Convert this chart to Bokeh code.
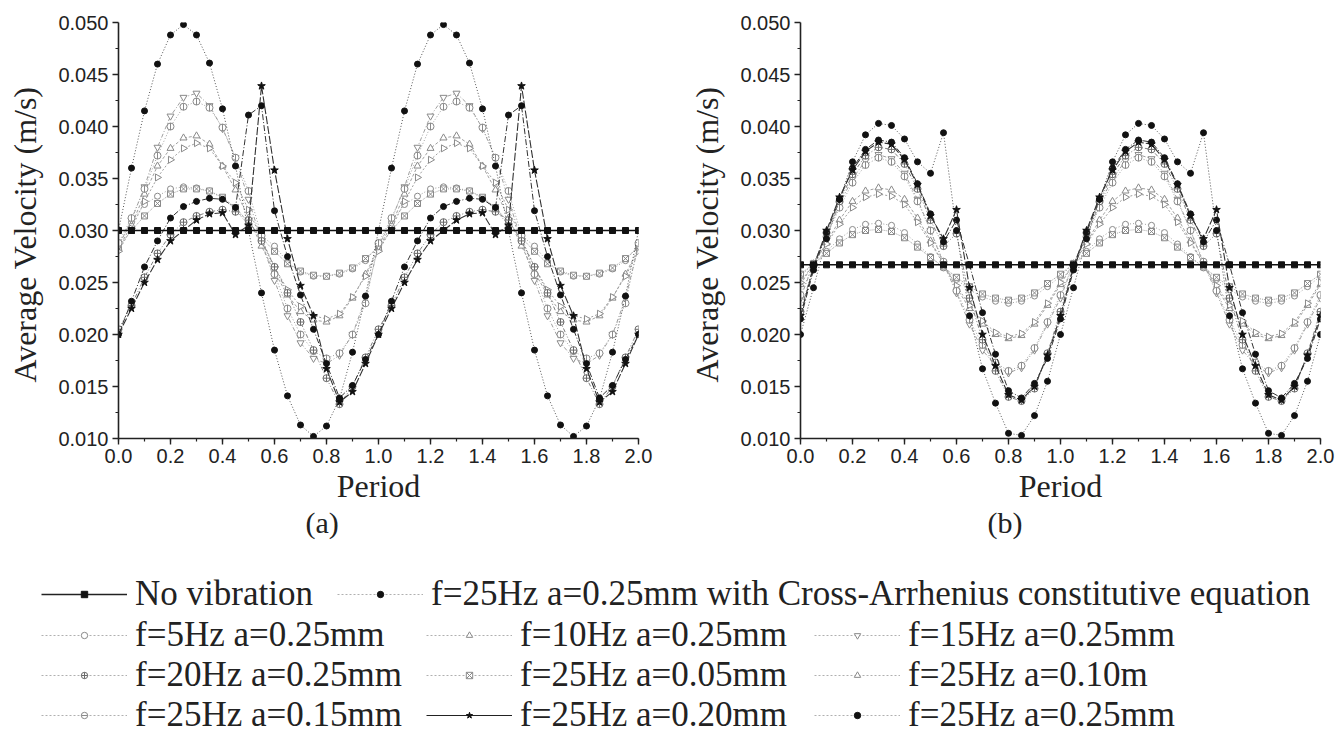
import numpy as np
from bokeh.plotting import figure
from bokeh.layouts import column, row
from bokeh.models import FixedTicker, NumeralTickFormatter, Title, Legend, LegendItem
from bokeh.embed import file_html
from bokeh.resources import INLINE

# ---------------- data ----------------
PERIOD = [round(0.05 * i, 2) for i in range(41)]
X_TICKS = [0.0, 0.2, 0.4, 0.6, 0.8, 1.0, 1.2, 1.4, 1.6, 1.8, 2.0]
Y_TICKS = [0.010, 0.015, 0.020, 0.025, 0.030, 0.035, 0.040, 0.045, 0.050]

LABELS = {
    "no_vib": "No vibration",
    "ca": "f=25Hz a=0.25mm with Cross-Arrhenius constitutive equation",
    "f5": "f=5Hz a=0.25mm",
    "f10": "f=10Hz a=0.25mm",
    "f15": "f=15Hz a=0.25mm",
    "f20": "f=20Hz a=0.25mm",
    "a005": "f=25Hz a=0.05mm",
    "a010": "f=25Hz a=0.10m",
    "a015": "f=25Hz a=0.15mm",
    "a020": "f=25Hz a=0.20mm",
    "a025": "f=25Hz a=0.25mm",
}

# panel (a)
A_NO_VIB = [0.0300, 0.0300, 0.0300, 0.0300, 0.0300, 0.0300, 0.0300, 0.0300, 0.0300, 0.0300, 0.0300,
            0.0300, 0.0300, 0.0300, 0.0300, 0.0300, 0.0300, 0.0300, 0.0300, 0.0300, 0.0300,
            0.0300, 0.0300, 0.0300, 0.0300, 0.0300, 0.0300, 0.0300, 0.0300, 0.0300, 0.0300,
            0.0300, 0.0300, 0.0300, 0.0300, 0.0300, 0.0300, 0.0300, 0.0300, 0.0300, 0.0300]
A_CA = [0.0200, 0.0232, 0.0265, 0.0290, 0.0312, 0.0323, 0.0328, 0.0331, 0.0330, 0.0322, 0.0411,
        0.0420, 0.0319, 0.0275, 0.0238, 0.0205, 0.0172, 0.0139, 0.0151, 0.0176, 0.0200,
        0.0232, 0.0265, 0.0290, 0.0312, 0.0323, 0.0328, 0.0331, 0.0330, 0.0322, 0.0411,
        0.0420, 0.0319, 0.0275, 0.0238, 0.0205, 0.0172, 0.0139, 0.0151, 0.0176, 0.0200]
A_F5 = [0.0286, 0.0308, 0.0325, 0.0333, 0.0340, 0.0342, 0.0341, 0.0338, 0.0331, 0.0320, 0.0305,
        0.0295, 0.0285, 0.0270, 0.0260, 0.0256, 0.0256, 0.0258, 0.0263, 0.0271, 0.0286,
        0.0308, 0.0325, 0.0333, 0.0340, 0.0342, 0.0341, 0.0338, 0.0331, 0.0320, 0.0305,
        0.0295, 0.0285, 0.0270, 0.0260, 0.0256, 0.0256, 0.0258, 0.0263, 0.0271, 0.0286]
A_F10 = [0.0283, 0.0305, 0.0335, 0.0362, 0.0379, 0.0389, 0.0391, 0.0383, 0.0362, 0.0339, 0.0312,
         0.0285, 0.0260, 0.0238, 0.0222, 0.0214, 0.0212, 0.0218, 0.0235, 0.0258, 0.0283,
         0.0305, 0.0335, 0.0362, 0.0379, 0.0389, 0.0391, 0.0383, 0.0362, 0.0339, 0.0312,
         0.0285, 0.0260, 0.0238, 0.0222, 0.0214, 0.0212, 0.0218, 0.0235, 0.0258, 0.0283]
A_F15 = [0.0285, 0.0310, 0.0342, 0.0380, 0.0410, 0.0428, 0.0432, 0.0420, 0.0398, 0.0370, 0.0330,
         0.0290, 0.0252, 0.0218, 0.0192, 0.0177, 0.0172, 0.0180, 0.0200, 0.0235, 0.0285,
         0.0310, 0.0342, 0.0380, 0.0410, 0.0428, 0.0432, 0.0420, 0.0398, 0.0370, 0.0330,
         0.0290, 0.0252, 0.0218, 0.0192, 0.0177, 0.0172, 0.0180, 0.0200, 0.0235, 0.0285]
A_F20 = [0.0205, 0.0228, 0.0255, 0.0278, 0.0296, 0.0308, 0.0314, 0.0318, 0.0320, 0.0318, 0.0310,
         0.0290, 0.0265, 0.0240, 0.0212, 0.0185, 0.0158, 0.0133, 0.0150, 0.0178, 0.0205,
         0.0228, 0.0255, 0.0278, 0.0296, 0.0308, 0.0314, 0.0318, 0.0320, 0.0318, 0.0310,
         0.0290, 0.0265, 0.0240, 0.0212, 0.0185, 0.0158, 0.0133, 0.0150, 0.0178, 0.0205]
A_A005 = [0.0284, 0.0300, 0.0314, 0.0326, 0.0335, 0.0340, 0.0340, 0.0338, 0.0332, 0.0322, 0.0308,
          0.0293, 0.0280, 0.0268, 0.0261, 0.0257, 0.0256, 0.0259, 0.0264, 0.0273, 0.0284,
          0.0300, 0.0314, 0.0326, 0.0335, 0.0340, 0.0340, 0.0338, 0.0332, 0.0322, 0.0308,
          0.0293, 0.0280, 0.0268, 0.0261, 0.0257, 0.0256, 0.0259, 0.0264, 0.0273, 0.0284]
A_A010 = [0.0280, 0.0302, 0.0328, 0.0351, 0.0368, 0.0379, 0.0384, 0.0379, 0.0362, 0.0346, 0.0320,
          0.0292, 0.0265, 0.0243, 0.0227, 0.0218, 0.0215, 0.0220, 0.0236, 0.0256, 0.0280,
          0.0302, 0.0328, 0.0351, 0.0368, 0.0379, 0.0384, 0.0379, 0.0362, 0.0346, 0.0320,
          0.0292, 0.0265, 0.0243, 0.0227, 0.0218, 0.0215, 0.0220, 0.0236, 0.0256, 0.0280]
A_A015 = [0.0288, 0.0312, 0.0340, 0.0372, 0.0400, 0.0419, 0.0424, 0.0418, 0.0399, 0.0370, 0.0338,
          0.0295, 0.0258, 0.0225, 0.0200, 0.0184, 0.0177, 0.0182, 0.0200, 0.0230, 0.0288,
          0.0312, 0.0340, 0.0372, 0.0400, 0.0419, 0.0424, 0.0418, 0.0399, 0.0370, 0.0338,
          0.0295, 0.0258, 0.0225, 0.0200, 0.0184, 0.0177, 0.0182, 0.0200, 0.0230, 0.0288]
A_A020 = [0.0200, 0.0225, 0.0250, 0.0272, 0.0290, 0.0300, 0.0310, 0.0316, 0.0317, 0.0296, 0.0305,
          0.0439, 0.0358, 0.0292, 0.0247, 0.0218, 0.0167, 0.0135, 0.0145, 0.0172, 0.0200,
          0.0225, 0.0250, 0.0272, 0.0290, 0.0300, 0.0310, 0.0316, 0.0317, 0.0296, 0.0305,
          0.0439, 0.0358, 0.0292, 0.0247, 0.0218, 0.0167, 0.0135, 0.0145, 0.0172, 0.0200]
A_A025 = [0.0300, 0.0360, 0.0415, 0.0460, 0.0488, 0.0498, 0.0488, 0.0461, 0.0417, 0.0362, 0.0300,
          0.0240, 0.0185, 0.0141, 0.0113, 0.0102, 0.0112, 0.0138, 0.0183, 0.0237, 0.0300,
          0.0360, 0.0415, 0.0460, 0.0488, 0.0498, 0.0488, 0.0461, 0.0417, 0.0362, 0.0300,
          0.0240, 0.0185, 0.0141, 0.0113, 0.0102, 0.0112, 0.0138, 0.0183, 0.0237, 0.0300]

# panel (b)
B_NO_VIB = [0.0267, 0.0267, 0.0267, 0.0267, 0.0267, 0.0267, 0.0267, 0.0267, 0.0267, 0.0267, 0.0267,
            0.0267, 0.0267, 0.0267, 0.0267, 0.0267, 0.0267, 0.0267, 0.0267, 0.0267, 0.0267,
            0.0267, 0.0267, 0.0267, 0.0267, 0.0267, 0.0267, 0.0267, 0.0267, 0.0267, 0.0267,
            0.0267, 0.0267, 0.0267, 0.0267, 0.0267, 0.0267, 0.0267, 0.0267, 0.0267, 0.0267]
B_CA = [0.0215, 0.0262, 0.0298, 0.0330, 0.0360, 0.0378, 0.0387, 0.0385, 0.0370, 0.0345, 0.0316,
        0.0289, 0.0310, 0.0267, 0.0221, 0.0181, 0.0146, 0.0139, 0.0153, 0.0177, 0.0215,
        0.0262, 0.0298, 0.0330, 0.0360, 0.0378, 0.0387, 0.0385, 0.0370, 0.0345, 0.0316,
        0.0289, 0.0310, 0.0267, 0.0221, 0.0181, 0.0146, 0.0139, 0.0153, 0.0177, 0.0215]
B_F5 = [0.0256, 0.0268, 0.0280, 0.0292, 0.0301, 0.0306, 0.0307, 0.0305, 0.0298, 0.0287, 0.0275,
        0.0264, 0.0253, 0.0243, 0.0236, 0.0232, 0.0230, 0.0232, 0.0237, 0.0246, 0.0256,
        0.0268, 0.0280, 0.0292, 0.0301, 0.0306, 0.0307, 0.0305, 0.0298, 0.0287, 0.0275,
        0.0264, 0.0253, 0.0243, 0.0236, 0.0232, 0.0230, 0.0232, 0.0237, 0.0246, 0.0256]
B_F10 = [0.0248, 0.0268, 0.0288, 0.0310, 0.0328, 0.0338, 0.0341, 0.0339, 0.0330, 0.0312, 0.0290,
         0.0268, 0.0245, 0.0225, 0.0210, 0.0200, 0.0196, 0.0199, 0.0210, 0.0228, 0.0248,
         0.0268, 0.0288, 0.0310, 0.0328, 0.0338, 0.0341, 0.0339, 0.0330, 0.0312, 0.0290,
         0.0268, 0.0245, 0.0225, 0.0210, 0.0200, 0.0196, 0.0199, 0.0210, 0.0228, 0.0248]
B_F15 = [0.0235, 0.0268, 0.0295, 0.0325, 0.0350, 0.0367, 0.0373, 0.0369, 0.0355, 0.0330, 0.0300,
         0.0268, 0.0240, 0.0210, 0.0185, 0.0170, 0.0163, 0.0168, 0.0185, 0.0210, 0.0235,
         0.0268, 0.0295, 0.0325, 0.0350, 0.0367, 0.0373, 0.0369, 0.0355, 0.0330, 0.0300,
         0.0268, 0.0240, 0.0210, 0.0185, 0.0170, 0.0163, 0.0168, 0.0185, 0.0210, 0.0235]
B_F20 = [0.0222, 0.0266, 0.0298, 0.0328, 0.0354, 0.0372, 0.0380, 0.0378, 0.0364, 0.0340, 0.0310,
         0.0285, 0.0297, 0.0235, 0.0195, 0.0165, 0.0140, 0.0136, 0.0148, 0.0182, 0.0222,
         0.0266, 0.0298, 0.0328, 0.0354, 0.0372, 0.0380, 0.0378, 0.0364, 0.0340, 0.0310,
         0.0285, 0.0297, 0.0235, 0.0195, 0.0165, 0.0140, 0.0136, 0.0148, 0.0182, 0.0222]
B_A005 = [0.0258, 0.0268, 0.0278, 0.0288, 0.0296, 0.0300, 0.0301, 0.0299, 0.0293, 0.0284, 0.0274,
          0.0265, 0.0255, 0.0246, 0.0239, 0.0235, 0.0233, 0.0235, 0.0240, 0.0249, 0.0258,
          0.0268, 0.0278, 0.0288, 0.0296, 0.0300, 0.0301, 0.0299, 0.0293, 0.0284, 0.0274,
          0.0265, 0.0255, 0.0246, 0.0239, 0.0235, 0.0233, 0.0235, 0.0240, 0.0249, 0.0258]
B_A010 = [0.0250, 0.0268, 0.0287, 0.0306, 0.0322, 0.0332, 0.0335, 0.0333, 0.0325, 0.0308, 0.0288,
          0.0268, 0.0247, 0.0228, 0.0213, 0.0202, 0.0198, 0.0201, 0.0212, 0.0230, 0.0250,
          0.0268, 0.0287, 0.0306, 0.0322, 0.0332, 0.0335, 0.0333, 0.0325, 0.0308, 0.0288,
          0.0268, 0.0247, 0.0228, 0.0213, 0.0202, 0.0198, 0.0201, 0.0212, 0.0230, 0.0250]
B_A015 = [0.0238, 0.0268, 0.0294, 0.0322, 0.0346, 0.0363, 0.0370, 0.0366, 0.0352, 0.0328, 0.0300,
          0.0270, 0.0242, 0.0214, 0.0190, 0.0173, 0.0165, 0.0170, 0.0187, 0.0212, 0.0238,
          0.0268, 0.0294, 0.0322, 0.0346, 0.0363, 0.0370, 0.0366, 0.0352, 0.0328, 0.0300,
          0.0270, 0.0242, 0.0214, 0.0190, 0.0173, 0.0165, 0.0170, 0.0187, 0.0212, 0.0238]
B_A020 = [0.0218, 0.0265, 0.0300, 0.0332, 0.0358, 0.0376, 0.0385, 0.0383, 0.0368, 0.0344, 0.0314,
          0.0292, 0.0320, 0.0245, 0.0200, 0.0170, 0.0142, 0.0137, 0.0150, 0.0180, 0.0218,
          0.0265, 0.0300, 0.0332, 0.0358, 0.0376, 0.0385, 0.0383, 0.0368, 0.0344, 0.0314,
          0.0292, 0.0320, 0.0245, 0.0200, 0.0170, 0.0142, 0.0137, 0.0150, 0.0180, 0.0218]
B_A025 = [0.0200, 0.0245, 0.0292, 0.0330, 0.0366, 0.0392, 0.0403, 0.0401, 0.0388, 0.0366, 0.0355,
          0.0394, 0.0300, 0.0218, 0.0167, 0.0134, 0.0105, 0.0103, 0.0122, 0.0155, 0.0200,
          0.0245, 0.0292, 0.0330, 0.0366, 0.0392, 0.0403, 0.0401, 0.0388, 0.0366, 0.0355,
          0.0394, 0.0300, 0.0218, 0.0167, 0.0134, 0.0105, 0.0103, 0.0122, 0.0155, 0.0200]

PANEL_A = {"no_vib": A_NO_VIB, "ca": A_CA, "f5": A_F5, "f10": A_F10, "f15": A_F15, "f20": A_F20,
           "a005": A_A005, "a010": A_A010, "a015": A_A015, "a020": A_A020, "a025": A_A025}
PANEL_B = {"no_vib": B_NO_VIB, "ca": B_CA, "f5": B_F5, "f10": B_F10, "f15": B_F15, "f20": B_F20,
           "a005": B_A005, "a010": B_A010, "a015": B_A015, "a020": B_A020, "a025": B_A025}

# ---------------- styles ----------------
GRAY_M = "#8a8a8a"
GRAY_L = "#a0a0a0"
DARK = "#111111"
STYLE = {
    "no_vib": dict(marker="square", size=6, fill=DARK, mline=DARK, lcolor=DARK, dash="solid", lw=1.4, angle=0.0),
    "ca": dict(marker="circle", size=6, fill=DARK, mline=DARK, lcolor="#333333", dash="6 2 1 2", lw=1.0, angle=0.0),
    "f5": dict(marker="circle", size=6, fill="white", mline=GRAY_M, lcolor=GRAY_L, dash="1 2", lw=1.0, angle=0.0),
    "f10": dict(marker="triangle", size=7, fill="white", mline=GRAY_M, lcolor=GRAY_L, dash="3 2", lw=1.0, angle=0.0),
    "f15": dict(marker="inverted_triangle", size=7, fill="white", mline=GRAY_M, lcolor=GRAY_L, dash="4 2 1 2", lw=1.0, angle=0.0),
    "f20": dict(marker="circle_cross", size=7, fill="white", mline="#6a6a6a", lcolor="#808080", dash="4 2 1 2 1 2", lw=1.0, angle=0.0),
    "a005": dict(marker="square_x", size=6, fill="white", mline=GRAY_M, lcolor=GRAY_L, dash="1 1", lw=1.0, angle=0.0),
    "a010": dict(marker="triangle", size=7, fill="white", mline=GRAY_M, lcolor=GRAY_L, dash="2 2", lw=1.0, angle=-np.pi / 2),
    "a015": dict(marker="circle", size=7, fill="white", mline=GRAY_M, lcolor=GRAY_L, dash="1 2", lw=1.0, angle=0.0),
    "a020": dict(marker="star", size=8, fill=DARK, mline=DARK, lcolor="#333333", dash="8 2", lw=1.1, angle=0.0),
    "a025": dict(marker="circle", size=6, fill=DARK, mline=DARK, lcolor="#555555", dash="1 2", lw=1.0, angle=0.0),
}
LEGEND_LINE = {"no_vib": ("#222222", "solid"), "a020": ("#222222", "solid")}
DRAW_ORDER = ["f5", "a005", "f10", "a010", "f15", "a015", "f20", "a020", "ca", "a025", "no_vib"]

SERIF = "Liberation Serif"
SANS = "Liberation Sans"
PANEL_H = 544


def add_series(p, key, xs, ys, legend=False):
    st = STYLE[key]
    lcolor, dash = st["lcolor"], st["dash"]
    if legend:
        lcolor, dash = LEGEND_LINE.get(key, ("#b0b0b0", "2 2"))
    rs = [p.line(xs, ys, line_color=lcolor, line_dash=dash, line_width=st["lw"]),
          p.scatter(xs, ys, marker=st["marker"], size=st["size"], fill_color=st["fill"],
                    line_color=st["mline"], line_width=1.0, angle=st["angle"])]
    if key == "a015":
        rs.append(p.scatter(xs, ys, marker="dash", size=st["size"], angle=np.pi / 2,
                            line_color=st["mline"], line_width=1.0))
    return rs


def make_panel(data, tag, left, right):
    p = figure(width=668, height=PANEL_H, x_range=(0, 2), y_range=(0.010, 0.050),
               min_border_left=left, min_border_right=right, min_border_top=22, min_border_bottom=106,
               output_backend="svg", toolbar_location=None)
    p.grid.visible = False
    p.outline_line_color = None
    p.background_fill_color = "white"
    p.border_fill_color = "white"
    for key in DRAW_ORDER:
        add_series(p, key, PERIOD, data[key])

    p.xaxis.ticker = FixedTicker(ticks=X_TICKS, minor_ticks=[round(0.1 * i, 1) for i in range(21)])
    p.yaxis.ticker = FixedTicker(ticks=Y_TICKS, minor_ticks=[0.0125, 0.0175, 0.0225, 0.0275, 0.0325, 0.0375, 0.0425, 0.0475])
    p.xaxis.formatter = NumeralTickFormatter(format="0.0")
    p.yaxis.formatter = NumeralTickFormatter(format="0.000")
    for ax in (p.xaxis[0], p.yaxis[0]):
        ax.axis_line_width = 1.6
        ax.axis_line_color = "#222222"
        ax.major_tick_line_color = "#222222"
        ax.minor_tick_line_color = "#222222"
        ax.major_tick_line_width = 1.4
        ax.minor_tick_line_width = 1.2
        ax.major_tick_out = 6
        ax.major_tick_in = 0
        ax.minor_tick_out = 3
        ax.minor_tick_in = 0
        ax.major_label_text_font = SANS
        ax.major_label_text_font_size = "20px"
        ax.major_label_text_color = "#222222"
        ax.axis_label_text_font = SERIF
        ax.axis_label_text_font_style = "normal"
        ax.axis_label_text_color = "#222222"
        ax.axis_label_text_font_size = "32px"
    p.xaxis.axis_label = "Period"
    p.xaxis.axis_label_standoff = 2
    p.xaxis.major_label_standoff = 4
    p.yaxis.axis_label = "Average  Velocity (m/s)"
    p.yaxis.axis_label_standoff = 12
    p.yaxis.major_label_standoff = 4
    p.add_layout(Title(text=tag, align="left", offset=187, standoff=-6, text_font=SERIF,
                       text_font_size="30px", text_font_style="normal", text_color="#222222"), "below")
    return p


pa = make_panel(PANEL_A, "(a)", 118, 30)
pb = make_panel(PANEL_B, "(b)", 132, 16)

# ---------------- legend ----------------
leg = figure(width=1336, height=743 - PANEL_H, x_range=(0, 1), y_range=(0, 1), min_border=0,
             min_border_left=0, min_border_right=0, min_border_top=0, min_border_bottom=0,
             output_backend="svg", toolbar_location=None, x_axis_type=None, y_axis_type=None)
leg.outline_line_color = None
leg.grid.visible = False

items = {}
for key in DRAW_ORDER:
    rs = add_series(leg, key, [np.nan], [np.nan], legend=True)
    items[key] = LegendItem(label=LABELS[key], renderers=rs)


def add_legend(keys, x, y):
    lg = Legend(items=[items[k] for k in keys], location=(x, y), orientation="vertical",
                glyph_width=86, glyph_height=16, label_standoff=8, label_height=30,
                label_text_font=SERIF, label_text_font_size="35px", label_text_color="#222222",
                spacing=0, padding=0, margin=0, border_line_alpha=0, background_fill_alpha=0)
    leg.add_layout(lg)


add_legend(["no_vib"], 41, 129)
add_legend(["ca"], 337, 129)
add_legend(["f5", "f20", "a015"], 41, 8)
add_legend(["f10", "a005", "a020"], 426, 8)
add_legend(["f15", "a010", "a025"], 814, 8)

layout = column(row(pa, pb), leg)
open("out.html", "w").write(file_html(layout, INLINE))
